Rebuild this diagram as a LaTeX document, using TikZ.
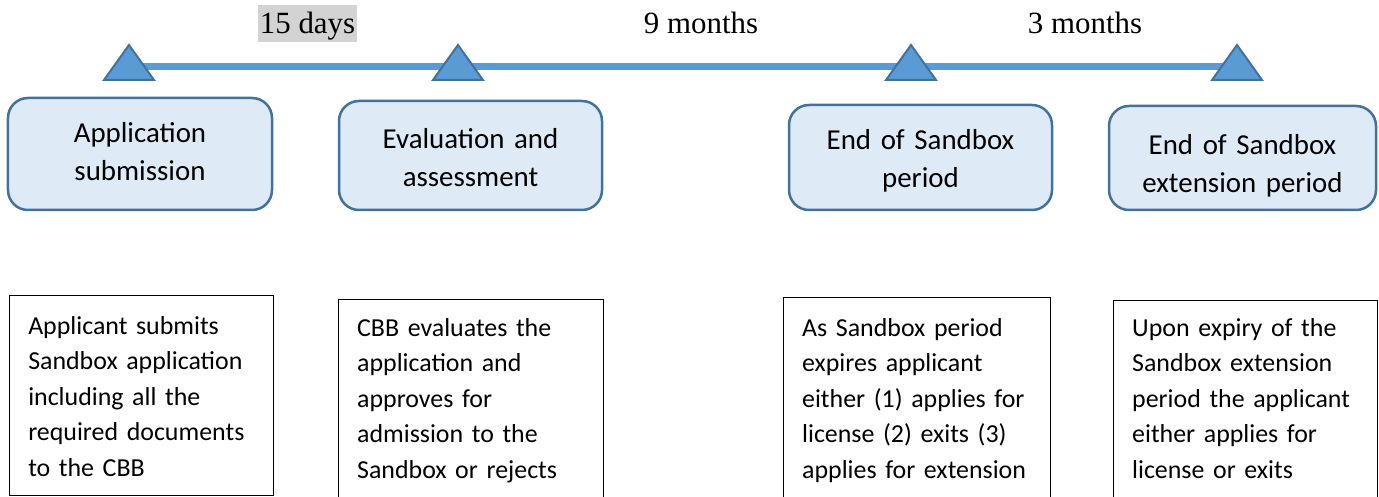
\documentclass[tikz,border=0pt]{standalone}
\usepackage{fontspec}
\setmainfont{Carlito}
\newfontfamily\timesfont{Liberation Serif}
\definecolor{lineblue}{HTML}{5B9BD5}
\definecolor{edgeblue}{HTML}{41719C}
\definecolor{boxfill}{HTML}{DEEBF7}
\definecolor{hlgray}{HTML}{D3D3D3}
\begin{document}
\begin{tikzpicture}[x=1bp,y=-1bp,
  phase/.style={draw=edgeblue, line width=2.5bp, fill=boxfill, rounded corners=20bp,
    align=center, inner sep=0pt, font=\fontsize{29}{37.5}\selectfont},
  detail/.style={draw=black, line width=1.3bp, anchor=north west, align=left,
    inner xsep=19bp, inner ysep=0pt, font=\fontsize{26}{35.6}\selectfont},
  durlabel/.style={font=\timesfont\fontsize{31}{37}\selectfont, inner sep=0pt, anchor=base},
  milestone/.style={draw=edgeblue, line width=2bp, fill=lineblue, line join=miter},
  timeline/.style={draw=lineblue, line width=7bp},
]
\useasboundingbox (0,0) rectangle (1379,497);

% timeline
\coordinate (t1) at (129,66.5);
\coordinate (t2) at (458,66.5);
\coordinate (t3) at (911,66.5);
\coordinate (t4) at (1237,66.5);
\draw[timeline] (t1) -- (t4);
\foreach \t in {t1,t2,t3,t4}
  \draw[milestone] ([shift={(-25,13.5)}]\t) -- ([shift={(25,13.5)}]\t)
     -- ([shift={(0,-21.5)}]\t) -- cycle;

% durations
\node[durlabel, fill=hlgray, text height=26bp, text depth=7bp, inner xsep=1.7bp, inner ysep=2bp]
  (d15) at (307.5,33.5) {15 days};
\node[durlabel] (m9) at (701,34) {9 months};
\node[durlabel] (m3) at (1085,34) {3 months};

% phase boxes
\node[phase, minimum width=264bp, minimum height=112bp, text width=264bp,
      text height=21bp, text depth=43.5bp] (b1) at (140,154) {Application\\submission};
\node[phase, minimum width=263bp, minimum height=109bp, text width=263bp,
      text height=25.5bp, text depth=39bp] (b2) at (470.5,155.5) {Evaluation and\\assessment};
\node[phase, minimum width=263bp, minimum height=105bp, text width=263bp,
      text height=24.5bp, text depth=40bp] (b3) at (920.5,157.5) {End of Sandbox\\period};
\node[phase, minimum width=267bp, minimum height=104bp, text width=267bp,
      text height=29bp, text depth=35.5bp] (b4) at (1242.5,158) {End of Sandbox\\extension period};

% detail boxes
\node[detail, text width=226bp, text height=39bp, text depth=161bp] (e1) at (8.6,294.6)
  {Applicant submits\\Sandbox application\\including all the\\required documents\\to the CBB};
\node[detail, text width=227bp, text height=37bp, text depth=168bp] (e2) at (337.5,298.5)
  {CBB evaluates the\\application and\\approves for\\admission to the\\Sandbox or rejects};
\node[detail, text width=229bp, text height=39bp, text depth=168bp] (e3) at (782.5,296.5)
  {As Sandbox period\\expires applicant\\either (1) applies for\\license (2) exits (3)\\applies for extension};
\node[detail, text width=226bp, text height=36bp, text depth=170bp] (e4) at (1112.5,299.5)
  {Upon expiry of the\\Sandbox extension\\period the applicant\\either applies for\\license or exits};
\end{tikzpicture}
\end{document}
